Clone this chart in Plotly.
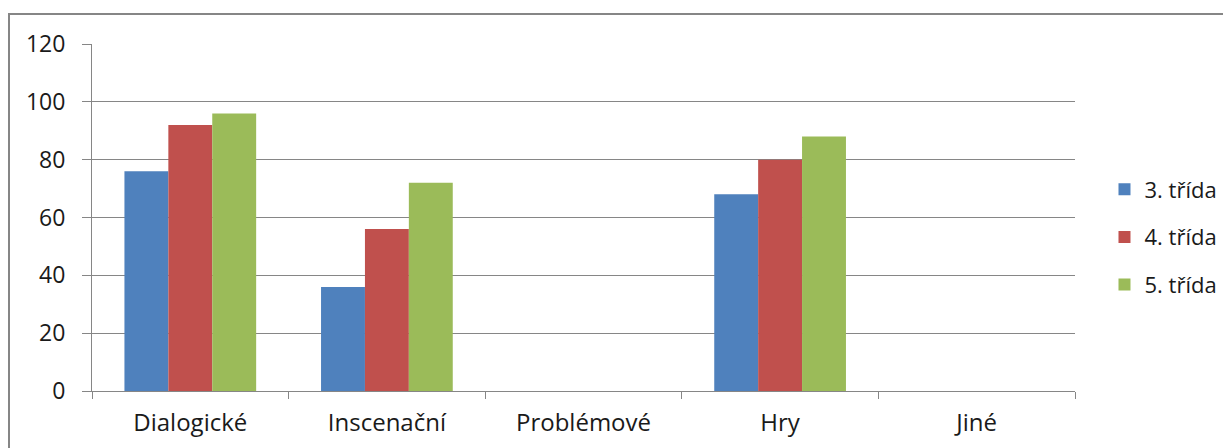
import plotly.graph_objects as go

categories = ["Dialogické", "Inscenační", "Problémové", "Hry", "Jiné"]
series_names = ["3. třída", "4. třída", "5. třída"]
values_3 = [76, 36, 0, 68, 0]
values_4 = [92, 56, 0, 80, 0]
values_5 = [96, 72, 0, 88, 0]
colors = ["#4F81BD", "#C0504D", "#9BBB59"]
y_ticks = [0, 20, 40, 60, 80, 100, 120]

# page body has 8px margin; compensate
OFF = 8
W, H = 1231, 448
L, R, T, B = 92 - OFF, 156 + OFF, 44 - OFF, 57 + OFF
pw, ph = W - L - R, H - T - B

fig = go.Figure()
for i, (name, vals) in enumerate(zip(series_names, [values_3, values_4, values_5])):
    fig.add_trace(go.Bar(x=categories, y=vals, name=name, marker_color=colors[i],
                         marker_line_width=0, legendgroup=name))

font = "Open Sans"
fig.update_layout(
    width=W, height=H,
    margin=dict(l=L, r=R, t=T, b=B, autoexpand=False),
    barmode="group", bargap=0.33, bargroupgap=0,
    plot_bgcolor="white", paper_bgcolor="white",
    font=dict(family=font, size=23, color="#1a1a1a"),
    showlegend=True,
    legend=dict(x=1.03, y=(391 - 237) / 347, xanchor="left", yanchor="middle",
                font=dict(size=22), tracegroupgap=16, bgcolor="rgba(0,0,0,0)"),
    xaxis=dict(type="category", tickson="boundaries", ticks="outside", ticklen=7,
               tickcolor="#868686", showline=True, linecolor="#868686", linewidth=1,
               showgrid=False, tickfont=dict(size=24), ticklabelstandoff=10),
    yaxis=dict(range=[0, 120], tickvals=y_ticks, ticks="outside", ticklen=9,
               tickcolor="#868686", showline=True, linecolor="#868686", linewidth=1,
               showgrid=True, gridcolor="#868686", gridwidth=1, zeroline=False,
               tickfont=dict(size=23), ticklabelstandoff=12),
)

fig.add_shape(type="rect", xref="paper", yref="paper",
              x0=(9 - OFF - L) / pw, x1=(W + 5 - L) / pw,
              y0=(H - B - (H + 5)) / ph, y1=(H - B - (14 - OFF)) / ph,
              line=dict(color="#868686", width=2), fillcolor="rgba(0,0,0,0)", layer="below")

fig.write_html("out.html")
